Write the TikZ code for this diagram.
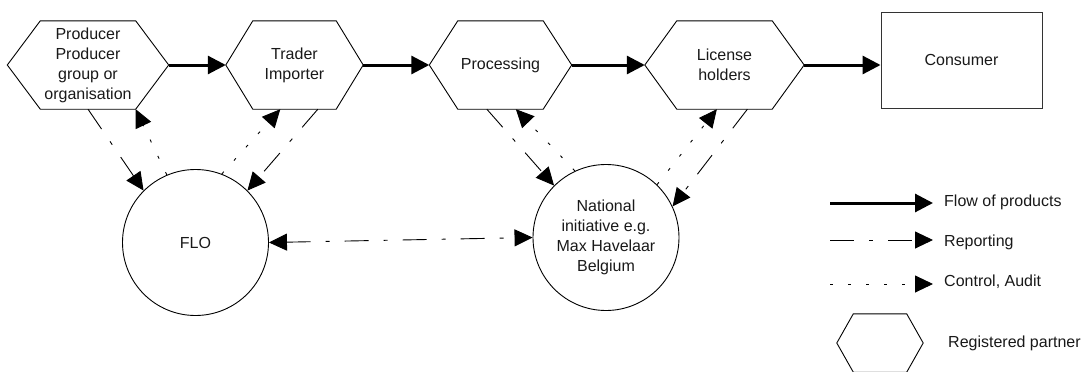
\documentclass[tikz,border=0pt]{standalone}
\usepackage{fontspec}
\setmainfont{Liberation Sans}
\usetikzlibrary{arrows.meta,calc}
\newcommand\hexnode[6]{%
  \node[hexbox, minimum width=#3, minimum height=#5] (#1) at (#2) {#6};
  \coordinate (#1-w) at ($(#1.west)+(-#4,0)$);
  \coordinate (#1-e) at ($(#1.east)+(#4,0)$);
  \draw[hexline] (#1.north west) -- (#1.north east) -- (#1-e) -- (#1.south east) -- (#1.south west) -- (#1-w) -- cycle;
}
\begin{document}
\begin{tikzpicture}[x=1pt,y=-1pt,
  txt/.style={font=\fontsize{16}{20}\selectfont, align=center, inner sep=0pt, text=black!90},
  hexbox/.style={txt, draw=none, shape=rectangle},
  hexline/.style={draw=black, line width=0.9pt, line join=miter},
  circ/.style={txt, draw=black, line width=0.9pt, circle, minimum size=146},
  flow/.style={line width=3pt, -{Triangle[length=18pt,width=18pt]}},
  report/.style={line width=0.9pt, dash pattern=on 24pt off 15pt on 4pt off 15pt, -{Triangle[length=18pt,width=17pt]}},
  control/.style={line width=0.9pt, dash pattern=on 3pt off 15pt, -{Triangle[length=18pt,width=17pt]}},
  legtxt/.style={txt, anchor=west}
]
\useasboundingbox (0,0) rectangle (1088,372);

% chain of registered partners
\hexnode{prod}{88,65}{95}{33}{88}{Producer\\Producer\\group or\\organisation}
\hexnode{trad}{294.5,65}{83}{27}{88}{Trader\\Importer}
\hexnode{proc}{500.5,65}{85}{28.5}{88}{Processing}
\hexnode{lic}{724.5,65}{95}{32}{88}{License\\holders}
\node[txt, draw=black!80, line width=0.9pt, minimum width=161, minimum height=96] (cons) at (961.5,60) {Consumer};

% organisations
\node[circ] (flo) at (195.5,242.5) {FLO};
\node[circ] (nat) at (606,237.5) {National\\initiative e.g.\\Max Havelaar\\Belgium};

% flow of products
\draw[flow] (prod-e) -- (trad-w);
\draw[flow] (trad-e) -- (proc-w);
\draw[flow] (proc-e) -- (lic-w);
\draw[flow] (lic-e) -- (lic-e -| cons.west);

% reporting and control
\draw[report] (prod.south) -- (flo.135);
\draw[control] (flo.113) -- (prod.south east);
\draw[control] (flo.69) -- ($(trad.south west)!0.33!(trad.south east)$);
\draw[report] ($(trad.south west)!0.78!(trad.south east)$) -- (flo.45);
\draw[report] ($(proc.south west)!0.34!(proc.south east)$) -- (nat.135);
\draw[control] (nat.115) -- ($(proc.south west)!0.68!(proc.south east)$);
\draw[control] (nat.46) -- ($(lic.south west)!0.42!(lic.south east)$);
\draw[report] ($(lic.south west)!0.74!(lic.south east)$) -- (nat.25);
\draw[report, {Triangle[length=18pt,width=17pt]}-{Triangle[length=18pt,width=17pt]}] (flo.east) -- (nat.west);

% legend
\coordinate (lf1) at (830,203); \coordinate (lf2) at (933,203);
\coordinate (lr1) at (830,240); \coordinate (lr2) at (933,240);
\coordinate (lc1) at (830,284); \coordinate (lc2) at (933,284);
\draw[flow] (lf1) -- (lf2);
\draw[report] (lr1) -- (lr2);
\draw[control] (lc1) -- (lc2);
\node[legtxt] (tf) at (944,202) {Flow of products};
\node[legtxt] (tr) at (944,242) {Reporting};
\node[legtxt] (tc) at (944,282) {Control, Audit};
\hexnode{leg}{880,343}{53}{16.5}{58}{}
\node[legtxt] (tp) at (948,343) {Registered partner};
\end{tikzpicture}
\end{document}
